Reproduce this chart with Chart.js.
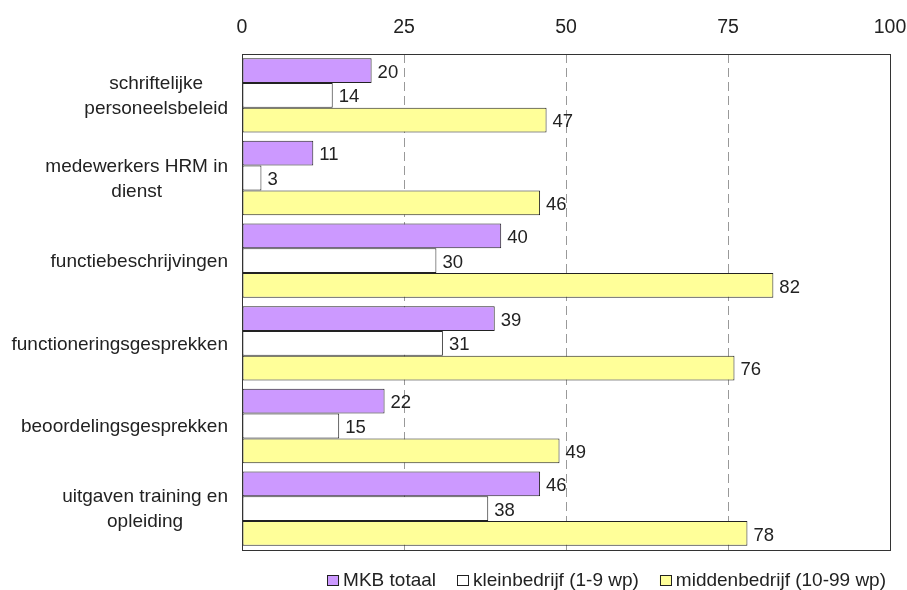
<!DOCTYPE html>
<html>
<head>
<meta charset="utf-8">
<script src="https://cdn.jsdelivr.net/npm/chart.js@4"></script>
<style>
  html, body { margin: 0; padding: 0; background: #fff; }
  #wrap { width: 907px; height: 590px; }
</style>
</head>
<body>
<div id="wrap"><canvas id="hrmChart" width="907" height="590"></canvas></div>
<script>
const categories = [
  ['schriftelijke', 'personeelsbeleid'],
  ['medewerkers HRM in', 'dienst'],
  ['functiebeschrijvingen'],
  ['functioneringsgesprekken'],
  ['beoordelingsgesprekken'],
  ['uitgaven training en', 'opleiding']
];
const mkbTotaal = [20, 11, 40, 39, 22, 46];
const kleinbedrijf = [14, 3, 30, 31, 15, 38];
const middenbedrijf = [47, 46, 82, 76, 49, 78];
const xTicks = [0, 25, 50, 75, 100];

const FONT = "'Liberation Sans', Arial, sans-serif";
const TEXT = '#222';

// rand om het plotgebied
const borderBox = {
  id: 'borderBox',
  afterDatasetsDraw(chart) {
    const { ctx, chartArea: a } = chart;
    ctx.save();
    ctx.strokeStyle = '#333';
    ctx.lineWidth = 1;
    ctx.strokeRect(Math.round(a.left) + 0.5, Math.round(a.top) + 0.5,
      Math.round(a.right - a.left), Math.round(a.bottom - a.top));
    ctx.restore();
  }
};

// waarden achter elke balk
const valueLabels = {
  id: 'valueLabels',
  afterDatasetsDraw(chart) {
    const { ctx } = chart;
    ctx.save();
    ctx.font = '18.5px ' + FONT;
    ctx.fillStyle = TEXT;
    ctx.textBaseline = 'middle';
    ctx.textAlign = 'left';
    chart.data.datasets.forEach((ds, i) => {
      chart.getDatasetMeta(i).data.forEach((bar, j) => {
        ctx.fillText(ds.data[j], bar.x + 6, bar.y + 2);
      });
    });
    ctx.restore();
  }
};

// categorielabels: regels onderling gecentreerd, blok rechts uitgelijnd
const categoryLabels = {
  id: 'categoryLabels',
  afterDraw(chart) {
    const { ctx } = chart;
    const y = chart.scales.y;
    ctx.save();
    ctx.font = '19px ' + FONT;
    ctx.fillStyle = TEXT;
    ctx.textAlign = 'center';
    ctx.textBaseline = 'middle';
    const right = 228;
    const lh = 25;
    categories.forEach((lines, i) => {
      const cy = y.getPixelForValue(i) + 1;
      const w = Math.max(...lines.map(l => ctx.measureText(l).width));
      const cx = right - w / 2;
      const top = cy - (lines.length - 1) * lh / 2;
      lines.forEach((l, k) => ctx.fillText(l, cx, top + k * lh));
    });
    ctx.restore();
  }
};

// legenda rechtsonder, klein vakje direct voor de tekst
const bottomLegend = {
  id: 'bottomLegend',
  afterDraw(chart) {
    const { ctx } = chart;
    ctx.save();
    ctx.font = '19px ' + FONT;
    ctx.textBaseline = 'middle';
    ctx.textAlign = 'left';
    const box = 12, gapText = 4, gapItem = 21, cy = 581;
    const items = chart.data.datasets.map(ds => ({
      label: ds.label, color: ds.backgroundColor, w: ctx.measureText(ds.label).width
    }));
    let total = items.reduce((s, it) => s + box + gapText + it.w, 0) + gapItem * (items.length - 1);
    let x = 886 - total;
    items.forEach(it => {
      ctx.fillStyle = it.color;
      ctx.fillRect(x, cy - 6, box, 11);
      ctx.strokeStyle = '#222';
      ctx.lineWidth = 1;
      ctx.strokeRect(Math.round(x) + 0.5, cy - 6 + 0.5, box - 1, 10);
      ctx.fillStyle = TEXT;
      ctx.fillText(it.label, x + box + gapText, cy);
      x += box + gapText + it.w + gapItem;
    });
    ctx.restore();
  }
};

new Chart(document.getElementById('hrmChart').getContext('2d'), {
  type: 'bar',
  data: {
    labels: categories,
    datasets: [
      { label: 'MKB totaal', data: mkbTotaal, backgroundColor: '#CC99FF', borderColor: '#222', borderWidth: 1 },
      { label: 'kleinbedrijf (1-9 wp)', data: kleinbedrijf, backgroundColor: '#FFFFFF', borderColor: '#222', borderWidth: 1 },
      { label: 'middenbedrijf (10-99 wp)', data: middenbedrijf, backgroundColor: '#FFFF99', borderColor: '#222', borderWidth: 1 }
    ]
  },
  options: {
    indexAxis: 'y',
    responsive: false,
    animation: false,
    devicePixelRatio: 1,
    layout: { padding: { top: 0, right: 0, bottom: 40, left: 0 } },
    datasets: { bar: { barPercentage: 1.0, categoryPercentage: 0.9, borderSkipped: false } },
    scales: {
      x: {
        position: 'top',
        min: 0,
        max: 100,
        afterBuildTicks: scale => { scale.ticks = xTicks.map(v => ({ value: v })); },
        afterFit: scale => {
          scale.height = 54;
          scale.paddingLeft = 0;
          scale.paddingRight = 17;
        },
        ticks: { color: TEXT, font: { family: FONT, size: 19.5 }, padding: 15, maxRotation: 0 },
        grid: {
          color: ctx => (ctx.tick && (ctx.tick.value === 0 || ctx.tick.value === 100)) ? 'rgba(0,0,0,0)' : '#999',
          drawTicks: false,
          lineWidth: 1
        },
        border: { display: false, dash: [9, 5] }
      },
      y: {
        afterFit: scale => { scale.width = 242; },
        ticks: { display: false },
        grid: { display: false },
        border: { display: false }
      }
    },
    plugins: {
      legend: { display: false },
      tooltip: { enabled: false }
    }
  },
  plugins: [borderBox, valueLabels, categoryLabels, bottomLegend]
});
</script>
</body>
</html>
